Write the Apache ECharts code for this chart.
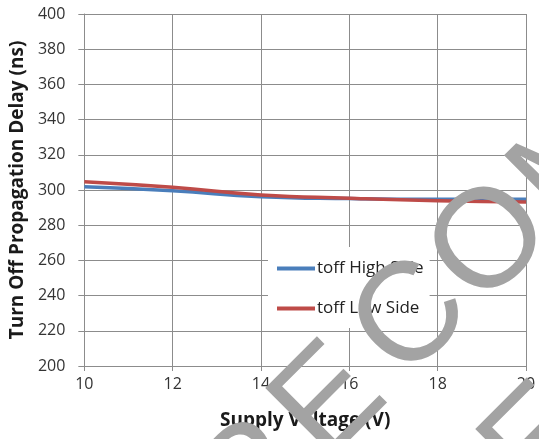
<!DOCTYPE html>
<html><head><meta charset="utf-8">
<script src="https://cdn.jsdelivr.net/npm/echarts@6/dist/echarts.min.js"></script>
<style>html,body{margin:0;padding:0;background:#fff}#c{width:539px;height:439px}</style>
</head><body><div id="c"></div>
<script>
const voltage = [10, 12, 14, 16, 18, 20];
const toffHigh = [301.9, 299.6, 296.2, 295.1, 294.7, 294.7];
const toffLow = [304.7, 301.5, 297.2, 295.3, 293.9, 293.2];
const seriesNames = ['toff High Side', 'toff Low Side'];
const seriesColors = ['#4a7ebb', '#be4b48'];
const xTitle = 'Supply Voltage (V)';
const yTitle = 'Turn Off Propagation Delay (ns)';
const watermarkLetters = ['R', 'E', 'C', 'O', 'M'];
const watermarkPos = [[254, 480], [331, 404], [413, 320], [492, 244], [578, 163]];
const watermarkRowOffsets = [[0, 0], [210, 41]];

const chart = echarts.init(document.getElementById('c'), null, {renderer: 'canvas'});
const font = '"Open Sans", sans-serif';
const gridColor = '#8c8c8c';

const watermark = [];
watermarkRowOffsets.forEach(off => {
  watermarkLetters.forEach((ch, i) => {
    watermark.push({
      type: 'text', z: 100, silent: true,
      x: watermarkPos[i][0] + off[0], y: watermarkPos[i][1] + off[1],
      rotation: 45 * Math.PI / 180,
      style: {
        text: ch, fill: '#a3a3a3',
        fontFamily: '"Liberation Sans", sans-serif', fontSize: 140, fontWeight: 'normal',
        textAlign: 'center', textVerticalAlign: 'middle',
        align: 'center', verticalAlign: 'middle'
      }
    });
  });
});

const option = {
  animation: false,
  backgroundColor: '#ffffff',
  grid: {left: 83, top: 14, right: 13, bottom: 73, containLabel: false},
  xAxis: {
    type: 'value', min: 10, max: 20, interval: 2,
    name: xTitle, nameLocation: 'middle', nameGap: 45,
    nameTextStyle: {fontFamily: font, fontSize: 19, fontWeight: 'bold', color: '#1a1a1a'},
    axisLine: {show: true, lineStyle: {color: gridColor, width: 1}},
    axisTick: {show: true, length: 5, lineStyle: {color: gridColor}},
    axisLabel: {margin: 10, fontFamily: font, fontSize: 16, color: '#333'},
    splitLine: {show: true, lineStyle: {color: gridColor, width: 1}}
  },
  yAxis: {
    type: 'value', min: 200, max: 400, interval: 20,
    name: yTitle, nameLocation: 'middle', nameGap: 56,
    nameTextStyle: {fontFamily: font, fontSize: 19, fontWeight: 'bold', color: '#1a1a1a'},
    axisLine: {show: true, lineStyle: {color: gridColor, width: 1}},
    axisTick: {show: true, length: 6, lineStyle: {color: gridColor}},
    axisLabel: {margin: 19, fontFamily: font, fontSize: 16, color: '#333'},
    splitLine: {show: true, lineStyle: {color: gridColor, width: 1}}
  },
  legend: {
    orient: 'vertical', left: 268, top: 247,
    backgroundColor: '#ffffff', padding: [13, 6, 11, 9],
    itemGap: 23, itemWidth: 38, itemHeight: 4, icon: 'rect',
    textStyle: {fontFamily: font, fontSize: 17, color: '#222', padding: [0, 0, 0, -3]},
    data: seriesNames
  },
  series: seriesNames.map((name, k) => ({
    name: name, type: 'line', smooth: true, symbol: 'none',
    data: voltage.map((v, i) => [v, (k === 0 ? toffHigh : toffLow)[i]]),
    lineStyle: {color: seriesColors[k], width: 3.5},
    itemStyle: {color: seriesColors[k]}
  })),
  graphic: watermark
};
chart.setOption(option);
</script>
</body></html>
